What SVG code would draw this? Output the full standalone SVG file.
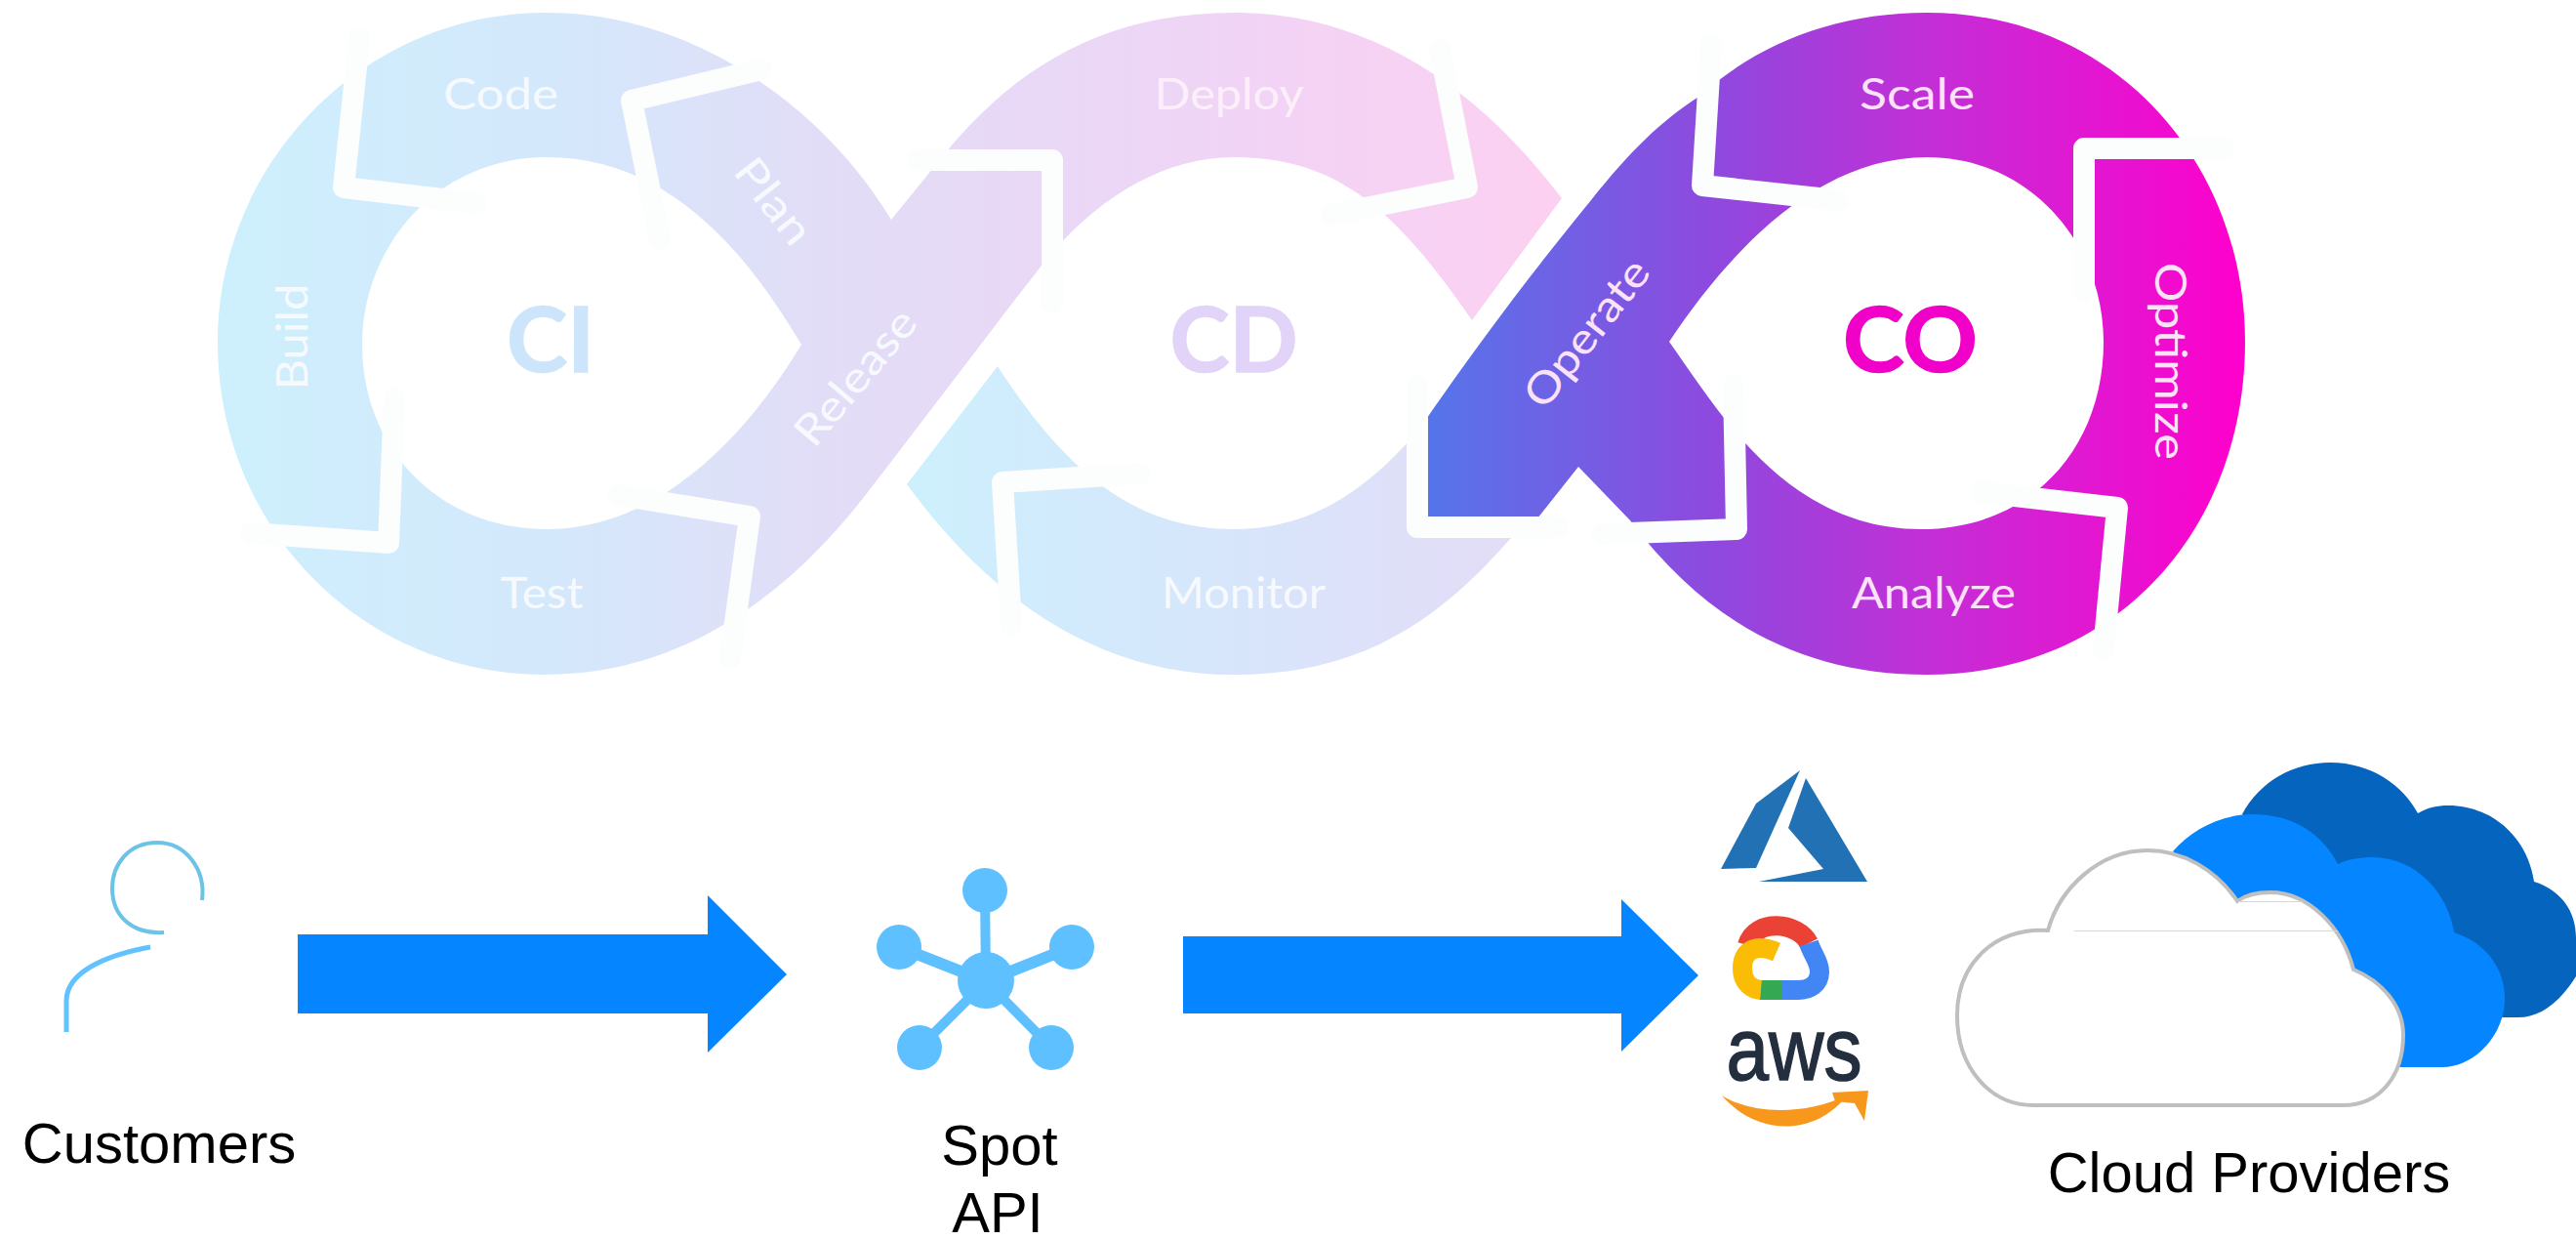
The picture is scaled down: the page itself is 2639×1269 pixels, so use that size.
<svg xmlns="http://www.w3.org/2000/svg" width="2639" height="1269" viewBox="0 0 2639 1269">
<style>
.a{fill:none;stroke:#FCFDFD;stroke-width:22;stroke-linejoin:round;stroke-linecap:round}
.l{font-family:"Lato","Open Sans",sans-serif;font-size:44px;text-anchor:middle;dominant-baseline:central}
.p{fill:#F6FAFE}
.d{fill:#FCEFFA}
.c{fill:#FBE2F8}
.h{font-family:"Lato","Open Sans",sans-serif;font-size:92px;font-weight:700;text-anchor:middle;dominant-baseline:central;stroke-width:1.5}
.t{font-family:"Liberation Sans",Arial,sans-serif;font-size:58px;fill:#000;text-anchor:middle}
.b{fill:#0585FF}
.n{fill:#5FC0FF}
.e{stroke:#5FC0FF;stroke-width:10;fill:none}
</style>
<defs>
<linearGradient id="g1" gradientUnits="userSpaceOnUse" x1="223" y1="0" x2="1600" y2="0">
<stop offset="0" stop-color="#CDF0FD"/><stop offset="0.25" stop-color="#D4E8FB"/><stop offset="0.45" stop-color="#E2DDF7"/><stop offset="0.62" stop-color="#E9D8F6"/><stop offset="0.8" stop-color="#F3D3F5"/><stop offset="1" stop-color="#FCD0F1"/>
</linearGradient>
<linearGradient id="g2" gradientUnits="userSpaceOnUse" x1="929" y1="0" x2="1560" y2="0">
<stop offset="0" stop-color="#CDF0FD"/><stop offset="0.5" stop-color="#D6E6FB"/><stop offset="1" stop-color="#E4DCF7"/>
</linearGradient>
<linearGradient id="g3" gradientUnits="userSpaceOnUse" x1="1462" y1="0" x2="2300" y2="0">
<stop offset="0" stop-color="#5575EA"/><stop offset="0.36" stop-color="#9048DE"/><stop offset="0.62" stop-color="#C42ED6"/><stop offset="1" stop-color="#FF00CC"/>
</linearGradient>
</defs>

<g id="band-ci-cd">
<path fill="url(#g1)" fill-rule="evenodd" d="M913,225 C850,120 720,13 559,13 C370,13 223,170 223,350 C223,540 370,691 559,691 C690,691 800,620 889,504 C950,425 1010,345 1067,272 C1120,205 1190,161 1264,161 C1370,161 1430,215 1508,328 L1600,203 C1510,85 1400,13 1264,13 C1130,13 1040,70 969,156 Z M821,353 C760,250 680,161 560,161 C450,161 371,250 371,353 C371,460 450,542 560,542 C660,542 750,470 821,353 Z"/>
</g>
<g id="band-monitor">
<path fill="url(#g2)" d="M929,496 L1022,375 C1090,480 1160,542 1264,542 C1340,542 1395,505 1445,450 L1530,420 L1600,500 L1547,552 C1470,640 1390,691 1264,691 C1130,691 1020,620 929,496 Z"/>
</g>
<g id="band-co">
<path fill="url(#g3)" fill-rule="evenodd" d="M1462,428 C1530,330 1585,260 1630,205 C1670,155 1700,125 1742,98 C1800,45 1880,13 1974,13 C2170,13 2300,170 2300,350 C2300,540 2170,691 1974,691 C1850,691 1750,640 1670,533 L1617,478 L1575,531 L1462,531 Z M1710,350 C1760,420 1830,542 1968,542 C2080,542 2155,460 2155,350 C2155,250 2080,161 1974,161 C1860,161 1770,260 1710,350 Z"/>
</g>

<g id="connectors">
<polyline class="a" points="368,40 352,192 487,208"/>
<polyline class="a" points="780,71 647,103 676,245"/>
<polyline class="a" points="941,164 1078,164 1078,310"/>
<polyline class="a" points="404,408 398,556 257,546"/>
<polyline class="a" points="633,507 768,529 748,674"/>
<polyline class="a" points="1168,485 1027,494 1036,640"/>
<polyline class="a" points="1364,220 1503,192 1475,50"/>
<polyline class="a" points="1753,45 1744,190 1882,205"/>
<polyline class="a" points="2278,152 2135,152 2135,297"/>
<polyline class="a" points="2029,504 2169,520 2155,665"/>
<polyline class="a" points="1452,395 1452,540 1595,540"/>
<polyline class="a" points="1641,547 1779,542 1776,395"/>
<polygon class="b" points="305,957 725,957 725,917 806,998 725,1078 725,1038 305,1038"/>
<polygon class="b" points="1212,959 1661,959 1661,921 1740,999 1661,1077 1661,1038 1212,1038"/>
</g>

<g id="labels-ci">
<text class="l p" x="513" y="95" textLength="118" lengthAdjust="spacingAndGlyphs">Code</text>
<text class="l p" transform="translate(298 345) rotate(-90)" textLength="109" lengthAdjust="spacingAndGlyphs">Build</text>
<text class="l p" transform="translate(794 205) rotate(52)" textLength="100" lengthAdjust="spacingAndGlyphs">Plan</text>
<text class="l p" transform="translate(875 385) rotate(-50)" textLength="168" lengthAdjust="spacingAndGlyphs">Release</text>
<text class="l p" x="555" y="606" textLength="85" lengthAdjust="spacingAndGlyphs">Test</text>
<text class="h" x="564" y="345" fill="#CDE5FB" stroke="#CDE5FB" textLength="90" lengthAdjust="spacingAndGlyphs">CI</text>
</g>
<g id="labels-cd">
<text class="l d" x="1259" y="95" textLength="153" lengthAdjust="spacingAndGlyphs">Deploy</text>
<text class="l p" x="1274" y="606" textLength="168" lengthAdjust="spacingAndGlyphs">Monitor</text>
<text class="h" x="1264" y="345" fill="#E2D4F9" stroke="#E2D4F9" textLength="131" lengthAdjust="spacingAndGlyphs">CD</text>
</g>
<g id="labels-co">
<text class="l c" transform="translate(1624 340) rotate(-52)" textLength="180" lengthAdjust="spacingAndGlyphs">Operate</text>
<text class="l c" x="1964" y="95" textLength="118" lengthAdjust="spacingAndGlyphs">Scale</text>
<text class="l c" transform="translate(2225 370) rotate(90)" textLength="202" lengthAdjust="spacingAndGlyphs">Optimize</text>
<text class="l c" x="1981" y="606" textLength="168" lengthAdjust="spacingAndGlyphs">Analyze</text>
<text class="h" x="1957" y="345" fill="#F000C8" stroke="#F000C8" textLength="138" lengthAdjust="spacingAndGlyphs">CO</text>
</g>

<g id="customers">
<path fill="none" stroke="#6CC3E6" stroke-width="4" d="M207,922 C211,890 190,863 161,863 C132,863 115,885 115,910 C115,938 135,957 168,955"/>
<path fill="none" stroke="#62C2FF" stroke-width="5" d="M154,970 C110,978 68,995 68,1025 L68,1057"/>
<text class="t" x="163" y="1191">Customers</text>
</g>

<g id="spot-api">
<line class="e" x1="1010" y1="1005" x2="1009" y2="912"/>
<line class="e" x1="1010" y1="1005" x2="921" y2="970" style="stroke-width:12"/>
<line class="e" x1="1010" y1="1005" x2="1098" y2="970" style="stroke-width:12"/>
<line class="e" x1="1010" y1="1005" x2="942" y2="1073"/>
<line class="e" x1="1010" y1="1005" x2="1077" y2="1073"/>
<circle class="n" cx="1010" cy="1004" r="29"/>
<circle class="n" cx="1009" cy="912" r="23"/>
<circle class="n" cx="921" cy="970" r="23"/>
<circle class="n" cx="1098" cy="970" r="23"/>
<circle class="n" cx="942" cy="1073" r="23"/>
<circle class="n" cx="1077" cy="1073" r="23"/>
<text class="t" x="1024" y="1193">Spot</text>
<text class="t" x="1022" y="1262">API</text>
</g>

<g id="azure">
<polygon fill="#2371B5" points="1844,789 1799,823 1763,890 1799,889"/>
<polygon fill="#2371B5" points="1850,797 1832,848 1868,890 1802,903 1913,903"/>
</g>
<g id="google-cloud" fill="none" stroke-width="20">
<path stroke="#EA4335" d="M1790,968 C1798,940 1842,944 1853,966"/>
<path stroke="#4285F4" d="M1853,966 C1857,978 1864,985 1864,995 C1864,1008 1854,1014 1842,1014 L1825,1014"/>
<path stroke="#34A853" d="M1825,1014 L1802,1014"/>
<path stroke="#FBBC05" d="M1804,1014 C1792,1013 1785,1004 1785,992 C1785,975 1797,965 1820,975"/>
</g>
<g id="aws">
<text x="1838" y="1106" font-family="'Liberation Sans',Arial,sans-serif" font-size="90" fill="#232F3E" stroke="#232F3E" stroke-width="1.5" text-anchor="middle" textLength="139" lengthAdjust="spacingAndGlyphs">aws</text>
<path fill="#F7981D" d="M1764,1122 C1795,1142 1850,1142 1892,1122 C1860,1164 1800,1164 1764,1122 Z"/>
<polygon fill="#F7981D" points="1877,1119 1914,1117 1910,1148 1900,1130 1880,1128"/>
</g>

<g id="cloud-providers">
<path fill="#0564BE" d="M2297,834 C2315,800 2350,781 2387,781 C2430,781 2462,805 2477,833 C2487,827 2497,825 2508,825 C2555,825 2590,860 2596,903 C2625,912 2639,935 2639,960 L2639,1000 C2620,1030 2600,1042 2580,1042 L2500,1042 L2400,950 Z"/>
<path class="b" d="M2226,872 C2245,850 2275,834 2308,834 C2350,834 2380,855 2395,885 C2405,880 2418,878 2431,878 C2475,878 2508,915 2514,955 C2545,965 2566,990 2566,1023 C2566,1060 2535,1093 2502,1093 L2420,1093 L2300,950 Z"/>
<path fill="#FFFFFF" stroke="#BFBFBF" stroke-width="4" d="M2083,1132 L2400,1132 C2440,1132 2462,1100 2462,1060 C2462,1030 2440,1005 2411,993 C2400,950 2365,914 2326,914 C2312,914 2300,917 2292,923 C2270,890 2235,871 2200,871 C2150,871 2110,910 2098,953 C2040,950 2005,990 2005,1040 C2005,1095 2040,1132 2083,1132 Z"/>
<path fill="none" stroke="#BBDDFF" stroke-width="1" d="M2125,953.5 H2395 M2293,923.5 H2359"/>
<text class="t" x="2304" y="1221">Cloud Providers</text>
</g>
</svg>
